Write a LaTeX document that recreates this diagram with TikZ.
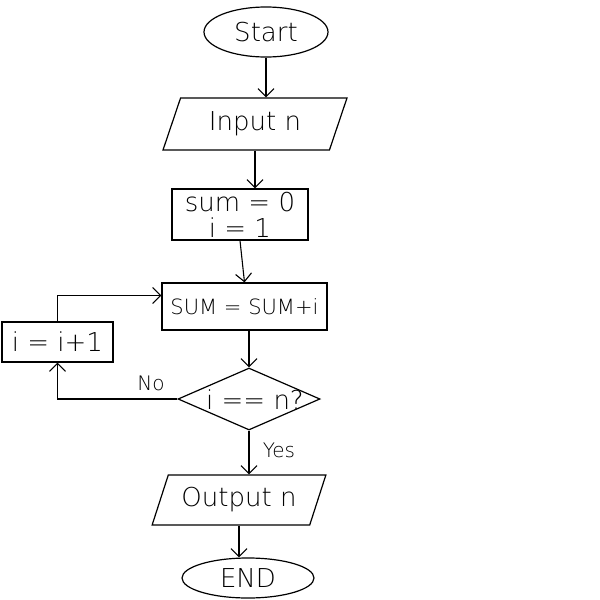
\documentclass[tikz,border=0pt]{standalone}
\usepackage{fontspec}
\newfontfamily\handfont{DejaVu Sans ExtraLight}
\usetikzlibrary{shapes.geometric,arrows.meta}
\begin{document}
\begin{tikzpicture}[x=1pt,y=-1pt,
  every node/.style={font=\handfont\fontsize{26}{30}\selectfont, inner sep=0pt, text=black},
  stroke/.style={draw=black, line width=1.2pt},
  terminal/.style={stroke, ellipse},
  io/.style={stroke, trapezium, trapezium stretches=true},
  procbox/.style={stroke, rectangle},
  decision/.style={stroke, diamond},
  flow/.style={line width=1.1pt, -{Straight Barb[length=8pt,width=16pt,line width=1.1pt]}},
  tag/.style={font=\handfont\fontsize{20}{22}\selectfont}]
\useasboundingbox (0,0) rectangle (600,600);

% nodes
\node[terminal, minimum width=124pt, minimum height=50pt] (start) at (266,32) {Start};
\node[io, trapezium left angle=66, trapezium right angle=114,
      minimum width=184pt, minimum height=52pt] (input) at (255,124) {Input n};
\node[procbox, minimum width=136pt, minimum height=51pt, align=center] (init) at (240,214.5)
      {sum = 0\\[-4pt] i = 1};
\node[procbox, minimum width=165pt, minimum height=47pt,
      font=\handfont\fontsize{21}{24}\selectfont] (accum) at (244.5,306.5) {SUM = SUM+i};
\node[procbox, minimum width=111pt, minimum height=40pt] (incr) at (57.5,342) {i = i+1};
\node[decision, minimum width=142pt, minimum height=62pt] (check) at (249,399) {};
\node (checktext) at (255,400) {i == n?};
\node[io, trapezium left angle=62, trapezium right angle=118,
      minimum width=174pt, minimum height=50pt] (output) at (239,500) {Output n};
\node[terminal, minimum width=132pt, minimum height=40pt] (end) at (248,578) {END};

% branch labels
\node[tag] (nolabel) at (151,383) {No};
\node[tag] (yeslabel) at (279,450) {Yes};

% connectors
\draw[flow] (start.south) -- (start.south |- input.north);
\draw[flow] (input.south) -- (input.south |- init.north);
\draw[flow] (init.south) -- (accum.north);
\draw[flow] (check.north |- accum.south) -- (check.north);
\draw[flow] (check.west) -- ++(-118,0) -| (incr.south);
\draw[flow] (incr.north) |- ([yshift=11pt]accum.west);
\draw[flow] (check.south) -- (check.south |- output.north);
\draw[flow] (output.south) -- (output.south |- end.north);
\end{tikzpicture}
\end{document}
